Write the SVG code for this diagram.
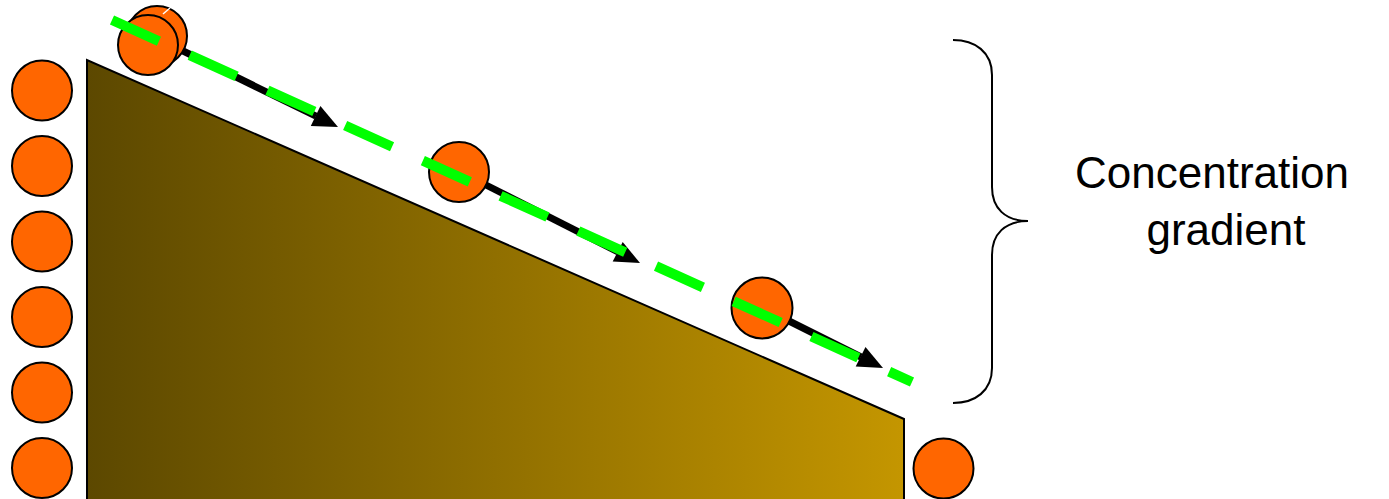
<svg xmlns="http://www.w3.org/2000/svg" width="1389" height="499" viewBox="0 0 1389 499">
  <style>
    .ball { fill: #ff6600; stroke: #000; stroke-width: 2; }
    .arrow-line { stroke: #000; stroke-width: 7; fill: none; }
    .arrow-head { fill: #000; }
    .label { font-family: "Liberation Sans", Arial, sans-serif; font-size: 44px; fill: #000; text-anchor: middle; }
  </style>
  <defs>
    <linearGradient id="slopeGrad" x1="87" y1="0" x2="904" y2="0" gradientUnits="userSpaceOnUse">
      <stop offset="0" stop-color="#5c4800"/>
      <stop offset="1" stop-color="#c49600"/>
    </linearGradient>
  </defs>
  <rect width="1389" height="499" fill="#fff"/>

  <g id="slope">
    <path d="M87,500 L87,60 L904,419 L904,500 Z" fill="url(#slopeGrad)" stroke="#000" stroke-width="2"/>
  </g>

  <g id="left-column">
    <circle class="ball" cx="42" cy="90.5" r="30"/>
    <circle class="ball" cx="42" cy="166" r="30"/>
    <circle class="ball" cx="42" cy="241.5" r="30"/>
    <circle class="ball" cx="42" cy="317" r="30"/>
    <circle class="ball" cx="42" cy="392.5" r="30"/>
    <circle class="ball" cx="42" cy="468" r="30"/>
  </g>

  <g id="bottom-ball">
    <circle class="ball" cx="943.5" cy="468.5" r="30"/>
  </g>

  <g id="connectors">
    <line class="arrow-line" x1="178" y1="48.5" x2="316" y2="116.2"/>
    <polygon class="arrow-head" points="338,127 310.8,125.9 320.4,106.1"/>
    <line class="arrow-line" x1="480" y1="182" x2="618" y2="251.8"/>
    <polygon class="arrow-head" points="640,263 612.7,261.5 622.7,241.9"/>
    <line class="arrow-line" x1="788" y1="320.5" x2="861" y2="357"/>
    <polygon class="arrow-head" points="883,368 855.7,366.6 865.5,347"/>
  </g>

  <g id="top-balls">
    <circle class="ball" cx="157" cy="36" r="30"/>
    <line x1="163" y1="14" x2="170" y2="8" stroke="#fff" stroke-width="1.5"/>
    <circle class="ball" cx="148" cy="45" r="30"/>
  </g>

  <g id="middle-ball">
    <circle class="ball" cx="459" cy="172" r="30"/>
  </g>

  <g id="lower-ball">
    <circle class="ball" cx="762" cy="308" r="30.5"/>
  </g>

  <g id="gradient-line">
    <line x1="112" y1="20" x2="912" y2="382" stroke="#00ff00" stroke-width="10" stroke-dasharray="51.5 33.8" fill="none"/>
  </g>

  <g id="brace">
    <path d="M953,40 C975,40 992,52 992,75 L992,187 C992,208 1005,221 1028,221 C1005,221 992,234 992,255 L992,368 C992,391 975,403 953,403" fill="none" stroke="#000" stroke-width="2"/>
  </g>

  <g id="label">
    <text class="label" x="1212" y="188">Concentration</text>
    <text class="label" x="1226" y="245">gradient</text>
  </g>
</svg>
